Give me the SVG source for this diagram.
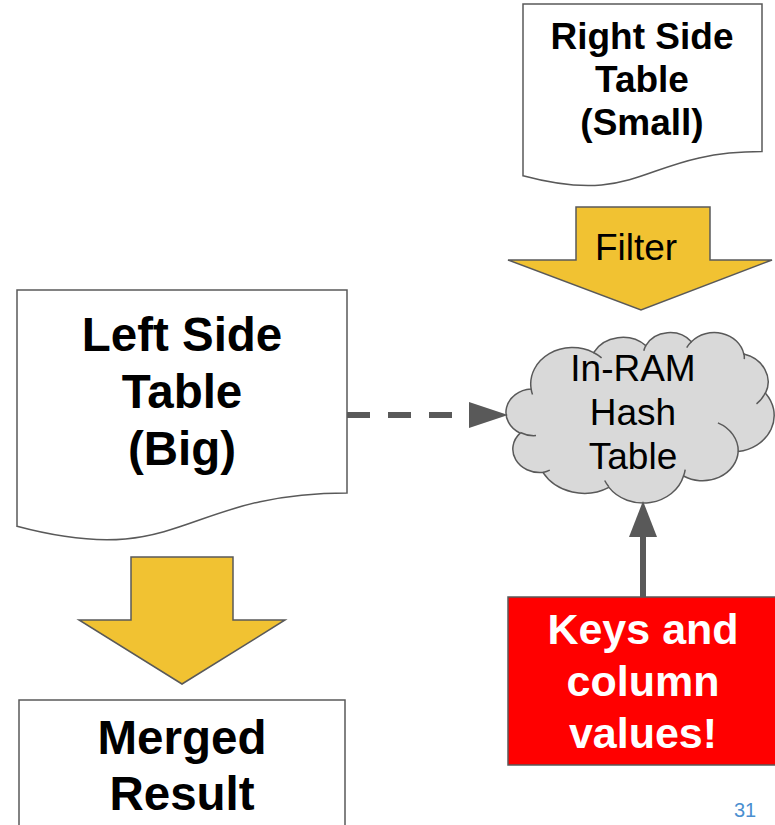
<svg xmlns="http://www.w3.org/2000/svg" width="775" height="825" viewBox="0 0 775 825">
<style>
.doc{fill:#ffffff;stroke:#595959;stroke-width:1.5}
.yarrow{fill:#f1c232;stroke:#595959;stroke-width:1.5;stroke-linejoin:miter}
.cloud{fill:#d9d9d9;stroke:#595959;stroke-width:1.5}
.crease{fill:none;stroke:#595959;stroke-width:1.5}
.bt{font-family:"Liberation Sans",Arial,sans-serif;font-weight:bold;text-anchor:middle;fill:#000000}
.rt{font-family:"Liberation Sans",Arial,sans-serif;text-anchor:middle;fill:#000000}
.conn{stroke:#595959;fill:none}
.head{fill:#595959;stroke:none}
</style>
<rect width="775" height="825" fill="#ffffff"/>

<g id="right-table">
<path class="doc" d="M523,4 H762 V151.6 C642.5,151.6 642.5,207.8 523,175.8 Z"/>
<text class="bt" font-size="37" x="642" y="49">Right Side</text>
<text class="bt" font-size="37" x="642" y="92">Table</text>
<text class="bt" font-size="37" x="642" y="135">(Small)</text>
</g>

<g id="filter-arrow">
<path class="yarrow" d="M576,207 H710 V260 H772 L641,310 L508,260 H576 Z"/>
<text class="rt" font-size="37" x="636" y="260">Filter</text>
</g>

<g id="hash-table">
<path class="cloud" d="M531.1,388.9 A41.74,36.38 0 0 1 593.6,352.6 A32.96,28.77 0 0 1 645.8,345.6 A26.98,23.53 0 0 1 691.4,341.8 A30.02,26.11 0 0 1 743.8,354.1 A32.96,28.79 0 0 1 765.5,393.2 A41.87,36.5 0 0 1 738.2,451.6 A35.75,31.14 0 0 1 683.5,476 A41.73,36.48 0 0 1 608.9,487.4 A47.71,41.73 0 0 1 542.9,472.4 A26.95,23.43 0 0 1 520.1,433.1 A26.86,23.53 0 0 1 531.1,388.9 Z"/>
<path class="crease" d="M536,435.6 A26.86,23.53 0 0 1 520.3,432.5 M549.8,470.1 A26.95,23.43 0 0 1 542.9,472.4 M608.8,486.7 A41.73,36.48 0 0 1 604.7,480.5 M685.2,469.6 A41.73,36.48 0 0 1 683.5,476 M717.9,422.9 A35.75,31.14 0 0 1 738.2,451.6 M765.3,392.8 A32.96,28.79 0 0 1 756.5,403.8 M743.9,353.5 A30.02,26.11 0 0 1 744.3,359.1 M686.7,347.6 A30.02,26.11 0 0 1 691.4,341.8 M643.8,350.7 A26.98,23.53 0 0 1 645.8,345.6 M593.5,352.5 A41.74,36.38 0 0 1 601.6,357.9 M532.5,394.5 A41.74,36.38 0 0 1 531.1,388.9"/>
<text class="rt" font-size="37" x="633" y="381">In-RAM</text>
<text class="rt" font-size="37" x="633" y="425">Hash</text>
<text class="rt" font-size="37" x="633" y="469">Table</text>
</g>

<g id="left-table">
<path class="doc" d="M17,290 H347 V492.9 C182,492.9 182,570.2 17,526.3 Z"/>
<text class="bt" font-size="47.5" x="182" y="351">Left Side</text>
<text class="bt" font-size="47.5" x="182" y="408">Table</text>
<text class="bt" font-size="47.5" x="182" y="465">(Big)</text>
</g>

<g id="merge-arrow">
<path class="yarrow" d="M131,557 H233 V620 H285 L182,684 L79,620 H131 Z"/>
</g>

<g id="merged-result">
<rect class="doc" x="19" y="700" width="326" height="140"/>
<text class="bt" font-size="47.5" x="182" y="754">Merged</text>
<text class="bt" font-size="47.5" x="182" y="810">Result</text>
</g>

<g id="keys-box">
<rect x="508" y="597" width="272" height="168" fill="#ff0000" stroke="#595959" stroke-width="1.5"/>
<text class="bt" font-size="43" x="643" y="644" style="fill:#ffffff">Keys and</text>
<text class="bt" font-size="43" x="643" y="696" style="fill:#ffffff">column</text>
<text class="bt" font-size="43" x="643" y="748" style="fill:#ffffff">values!</text>
</g>

<g id="connectors">
<line class="conn" x1="347" y1="415" x2="469" y2="415" stroke-width="6" stroke-dasharray="23,18"/>
<polygon class="head" points="469,402 469,428 508,415"/>
<line class="conn" x1="643" y1="597" x2="643" y2="535" stroke-width="6"/>
<polygon class="head" points="629,537 657,537 643,501"/>
</g>

<text x="734" y="817" font-family="'Liberation Sans',Arial,sans-serif" font-size="20" fill="#4a8fd0">31</text>
</svg>
